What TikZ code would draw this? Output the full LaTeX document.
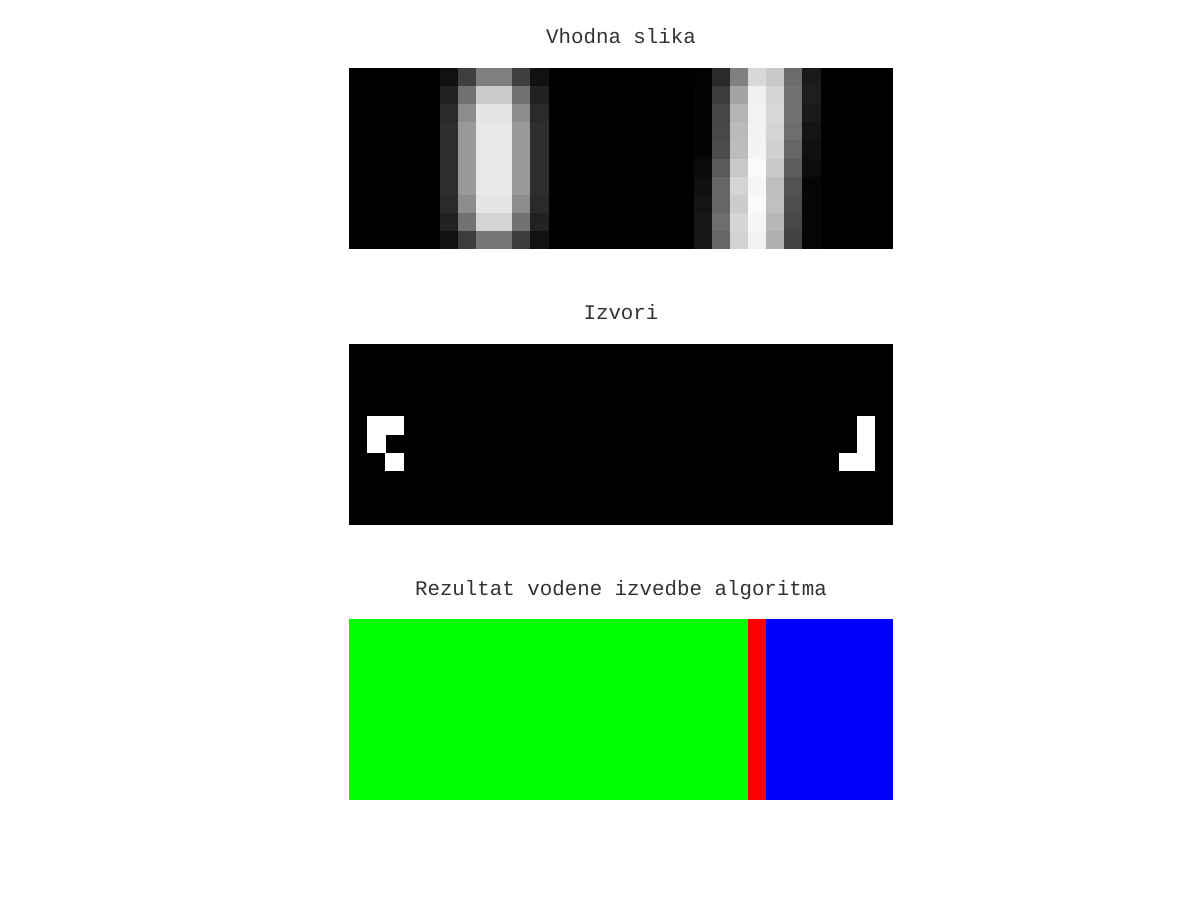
\documentclass[tikz,border=0pt]{standalone}
\usepackage{fontspec}
\setmonofont{Liberation Mono}
\begin{document}
\begin{tikzpicture}[x=1pt,y=-1pt,
  title/.style={font=\ttfamily\fontsize{20.8}{24}\selectfont, text=black!80, anchor=base, inner sep=0pt}]
\def\W{18.1333}\def\H{18.1}
\newcommand\grayrow[3]{%
  \foreach \v [count=\c from #2] in {#3} {%
    \definecolor{tmp}{RGB}{\v,\v,\v}%
    \fill[tmp] ({349+(\c-1)*\W},{68+#1*\H}) rectangle ++({\W+0.4},{\H+0.4});}}
\newcommand\cell[3]{\fill[#3] ({349+#1*\W},{344+#2*\H}) rectangle ++({\W+0.3},{\H+0.3});}
\fill[white] (0,0) rectangle (1200,900);
\useasboundingbox (0,0) rectangle (1200,900);
% titles
\node[title] (t1) at (621,43.5) {Vhodna slika};
\node[title] (t2) at (621,319.5) {Izvori};
\node[title] (t3) at (621,595.5) {Rezultat vodene izvedbe algoritma};
% panel 1
\fill[black] (349,68) rectangle (893,249);
\grayrow{0}{6}{17,63,127,127,63,17}
\grayrow{1}{6}{34,114,204,204,114,34}
\grayrow{2}{6}{42,140,229,229,140,42}
\grayrow{3}{6}{46,153,232,232,153,46}
\grayrow{4}{6}{46,153,232,232,153,46}
\grayrow{5}{6}{46,153,232,232,153,46}
\grayrow{6}{6}{46,153,232,232,153,46}
\grayrow{7}{6}{42,140,229,229,140,42}
\grayrow{8}{6}{34,114,212,212,114,34}
\grayrow{9}{6}{17,60,119,119,60,17}
\grayrow{0}{20}{2,42,128,216,200,108,26}
\grayrow{1}{20}{4,60,164,240,212,114,30}
\grayrow{2}{20}{4,70,180,242,216,114,26}
\grayrow{3}{20}{4,72,186,242,212,110,20}
\grayrow{4}{20}{4,76,188,244,208,102,16}
\grayrow{5}{20}{10,90,200,250,200,92,12}
\grayrow{6}{20}{16,102,212,246,190,82,6}
\grayrow{7}{20}{20,102,204,250,192,78,6}
\grayrow{8}{20}{24,110,214,246,184,72,6}
\grayrow{9}{20}{24,102,210,242,176,66,6}
% panel 2
\fill[black] (349,344) rectangle (893,525);
\cell{1}{4}{white}\cell{2}{4}{white}\cell{1}{5}{white}\cell{2}{6}{white}
\cell{28}{4}{white}\cell{28}{5}{white}\cell{27}{6}{white}\cell{28}{6}{white}
% panel 3
\fill[green!100!black] (349,619) rectangle ({349+22*\W},800);
\fill[red] ({349+22*\W},619) rectangle ({349+23*\W},800);
\fill[blue] ({349+23*\W},619) rectangle (893,800);
\end{tikzpicture}
\end{document}
